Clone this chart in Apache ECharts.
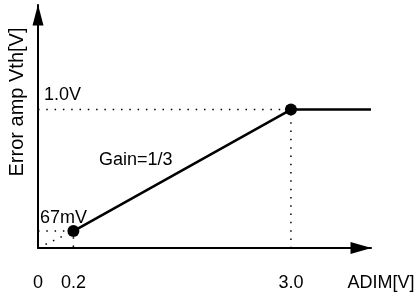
<!doctype html>
<html>
<head>
<meta charset="utf-8">
<title>gain</title>
<script src="https://cdn.jsdelivr.net/npm/echarts@6/dist/echarts.min.js"></script>
<style>
html,body{margin:0;padding:0;background:#fff}
#main{width:418px;height:292px}
</style>
</head>
<body>
<div id="main"></div>
<script>
// schematic transfer curve in axis units
var adim = [0.42, 3.0, 3.95];
var vth = [0.122, 1.0, 1.0];
var dotIdx = [0, 1]; // points drawn with a dot
var xTickVals = [0, 0.42, 3.0];
var xTickText = ['0', '0.2', '3.0'];
var levelText = ['67mV', '1.0V'];
var gainText = 'Gain=1/3';

var FONT = '18px "Liberation Sans", Arial, sans-serif';

var myChart = echarts.init(document.getElementById('main'));

var curve = [];
for (var i = 0; i < adim.length; i++) curve.push([adim[i], vth[i]]);

function dotted(data) {
	return {
		type: 'line', data: data, symbol: 'none', silent: true, clip: false, z: 1,
		lineStyle: { color: '#000', width: 1.5, type: [1.5, 6.8] }
	};
}

var option = {
	animation: false,
	grid: { left: 38, top: 5, right: 47, bottom: 43 },
	xAxis: {
		type: 'value', min: 0, max: 3.95,
		axisLine: { lineStyle: { color: '#000', width: 2 }, symbol: ['none', 'triangle'], symbolSize: [12, 21], symbolOffset: [0, -10] },
		axisTick: { show: false },
		splitLine: { show: false },
		axisLabel: {
			customValues: xTickVals, margin: 26, color: '#000', fontSize: 18, fontFamily: 'Liberation Sans',
			formatter: function (v) { return xTickText[xTickVals.indexOf(v)]; }
		}
	},
	yAxis: {
		type: 'value', min: 0, max: 1.755,
		axisLine: { lineStyle: { color: '#000', width: 2 }, symbol: ['none', 'triangle'], symbolSize: [11, 21], symbolOffset: [0, -10] },
		axisTick: { show: false },
		splitLine: { show: false },
		axisLabel: { show: false }
	},
	series: [
		dotted([[0, vth[1]], [adim[1], vth[1]], [adim[1], 0]]),
		dotted([[0, vth[0]], [adim[0], vth[0]], [adim[0], 0]]),
		dotted([[0, 0], [adim[0], vth[0]]]),
		{
			type: 'line', data: curve, clip: false, z: 3,
			symbol: 'circle',
			symbolSize: function (v, p) { return dotIdx.indexOf(p.dataIndex) >= 0 ? 12 : 0; },
			itemStyle: { color: '#000' },
			lineStyle: { color: '#000', width: 2.5 }
		}
	],
	graphic: [
		{ type: 'text', x: 17, y: 102, rotation: Math.PI / 2, style: { text: 'Error amp Vth[V]', font: '20px "Liberation Sans", Arial, sans-serif', fill: '#000', align: 'center', verticalAlign: 'middle' } },
		{ type: 'text', x: 44, y: 95, style: { text: levelText[1], font: FONT, fill: '#000', align: 'left', verticalAlign: 'middle' } },
		{ type: 'text', x: 40, y: 218, style: { text: levelText[0], font: FONT, fill: '#000', align: 'left', verticalAlign: 'middle' } },
		{ type: 'text', x: 99, y: 160, style: { text: gainText, font: FONT, fill: '#000', align: 'left', verticalAlign: 'middle' } },
		{ type: 'text', x: 381, y: 283, style: { text: 'ADIM[V]', font: FONT, fill: '#000', align: 'center', verticalAlign: 'middle' } }
	]
};
myChart.setOption(option);
</script>
</body>
</html>
